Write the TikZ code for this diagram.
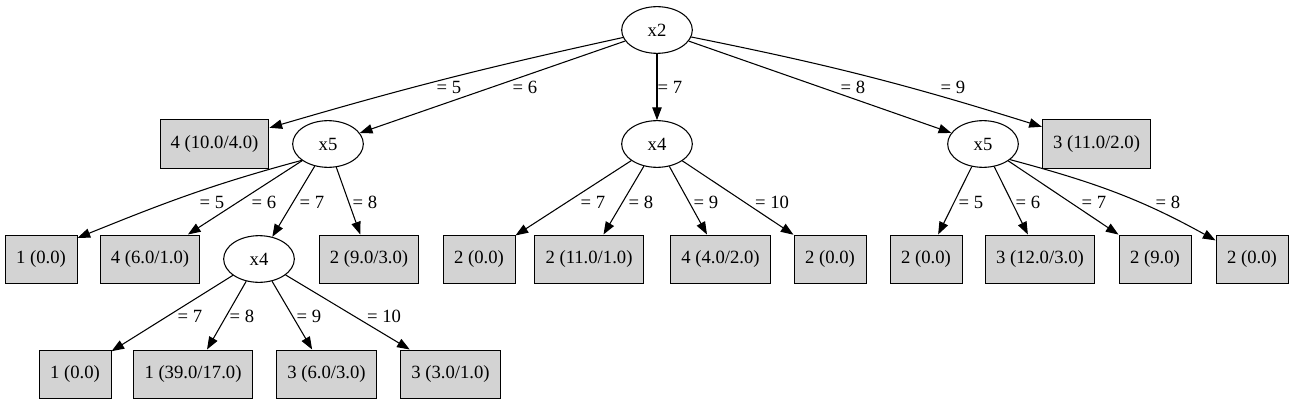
\documentclass[tikz,border=0pt]{standalone}
\usepackage{fontspec}
\setmainfont{Liberation Serif}
\usetikzlibrary{shapes.geometric,arrows.meta}
\definecolor{leafgray}{HTML}{D3D3D3}
\tikzset{
	attr/.style={ellipse,draw,line width=0.8pt,minimum width=53pt,minimum height=35pt,inner sep=0pt,font=\fontsize{14}{16}\selectfont},
	leaf/.style={rectangle,draw,fill=leafgray,line width=0.75pt,minimum width=54pt,minimum height=36pt,inner xsep=8pt,font=\fontsize{14}{16}\selectfont},
	edge/.style={-{Triangle[length=9.5pt,width=7pt]},line width=0.8pt},
	lbl/.style={inner sep=0pt,font=\fontsize{14}{16}\selectfont}
}
\begin{document}
\begin{tikzpicture}[x=0.75pt,y=-0.75pt]
		      \useasboundingbox (0,0) rectangle (1293,403);
		      \node[attr] (x2) at (657,30) {x2}; %根节点
		      \node[leaf] (leafA) at (214.5,144) {4 (10.0/4.0)};
		      \node[attr] (x5a) at (328,144) {x5};
		      \node[attr] (x4a) at (657,144) {x4};
		      \node[attr] (x5b) at (983,144) {x5};
		      \node[leaf] (leafB) at (1096.5,144) {3 (11.0/2.0)};
		      \node[leaf] (y1) at (41,259) {1 (0.0)};
		      \node[leaf] (y2) at (150,259) {4 (6.0/1.0)};
		      \node[attr] (x4b) at (259,259) {x4};
		      \node[leaf] (y3) at (369,259) {2 (9.0/3.0)};
		      \node[leaf] (y4) at (479,259) {2 (0.0)};
		      \node[leaf] (y5) at (589,259) {2 (11.0/1.0)};
		      \node[leaf] (y6) at (720.5,259) {4 (4.0/2.0)};
		      \node[leaf] (y7) at (830,259) {2 (0.0)};
		      \node[leaf] (y8) at (926,259) {2 (0.0)};
		      \node[leaf] (y9) at (1040,259) {3 (12.0/3.0)};
		      \node[leaf] (y10) at (1155,259) {2 (9.0)};
		      \node[leaf] (y11) at (1252,259) {2 (0.0)};
		      \node[leaf] (z1) at (75,374) {1 (0.0)};
		      \node[leaf] (z2) at (193,374) {1 (39.0/17.0)};
		      \node[leaf] (z3) at (326.5,374) {3 (6.0/3.0)};
		      \node[leaf] (z4) at (450.5,374) {3 (3.0/1.0)};
		      % x2 的分支
		      \draw[edge] (x2) to[bend right=2] (leafA) node[lbl,at={(449,87)}] {= 5};
		      \draw[edge] (x2) -- (x5a) node[lbl,at={(525,87)}] {= 6};
		      \draw[edge] (x2) -- (x4a) node[lbl,at={(670,87)}] {= 7};
		      \draw[edge] (x2) -- (x5b) node[lbl,at={(853,87)}] {= 8};
		      \draw[edge] (x2) to[bend left=3] (leafB) node[lbl,at={(953,87)}] {= 9};
		      % x5 的分支
		      \draw[edge] (x5a.212) to[out=195,in=22] (y1.30) node[lbl,at={(212,202)}] {= 5};
		      \draw[edge] (x5a) -- (y2) node[lbl,at={(264,202)}] {= 6};
		      \draw[edge] (x5a) -- (x4b) node[lbl,at={(312,202)}] {= 7};
		      \draw[edge] (x5a) -- (y3) node[lbl,at={(365,202)}] {= 8};
		      % x4 的分支
		      \draw[edge] (x4a) -- (y4) node[lbl,at={(593,202)}] {= 7};
		      \draw[edge] (x4a) -- (y5) node[lbl,at={(641,202)}] {= 8};
		      \draw[edge] (x4a) -- (y6) node[lbl,at={(706,202)}] {= 9};
		      \draw[edge] (x4a) -- (y7) node[lbl,at={(772,202)}] {= 10};
		      % 右边 x5 的分支
		      \draw[edge] (x5b) -- (y8) node[lbl,at={(971,202)}] {= 5};
		      \draw[edge] (x5b) -- (y9) node[lbl,at={(1028,202)}] {= 6};
		      \draw[edge] (x5b) -- (y10) node[lbl,at={(1094,202)}] {= 7};
		      \draw[edge] (x5b.-30) to[out=-15,in=151] (y11.153) node[lbl,at={(1168,202)}] {= 8};
		      % 下层 x4 的分支
		      \draw[edge] (x4b) -- (z1) node[lbl,at={(190,316)}] {= 7};
		      \draw[edge] (x4b) -- (z2) node[lbl,at={(242,316)}] {= 8};
		      \draw[edge] (x4b) -- (z3) node[lbl,at={(309,316)}] {= 9};
		      \draw[edge] (x4b) -- (z4) node[lbl,at={(384,316)}] {= 10};
	      \end{tikzpicture}
\end{document}
